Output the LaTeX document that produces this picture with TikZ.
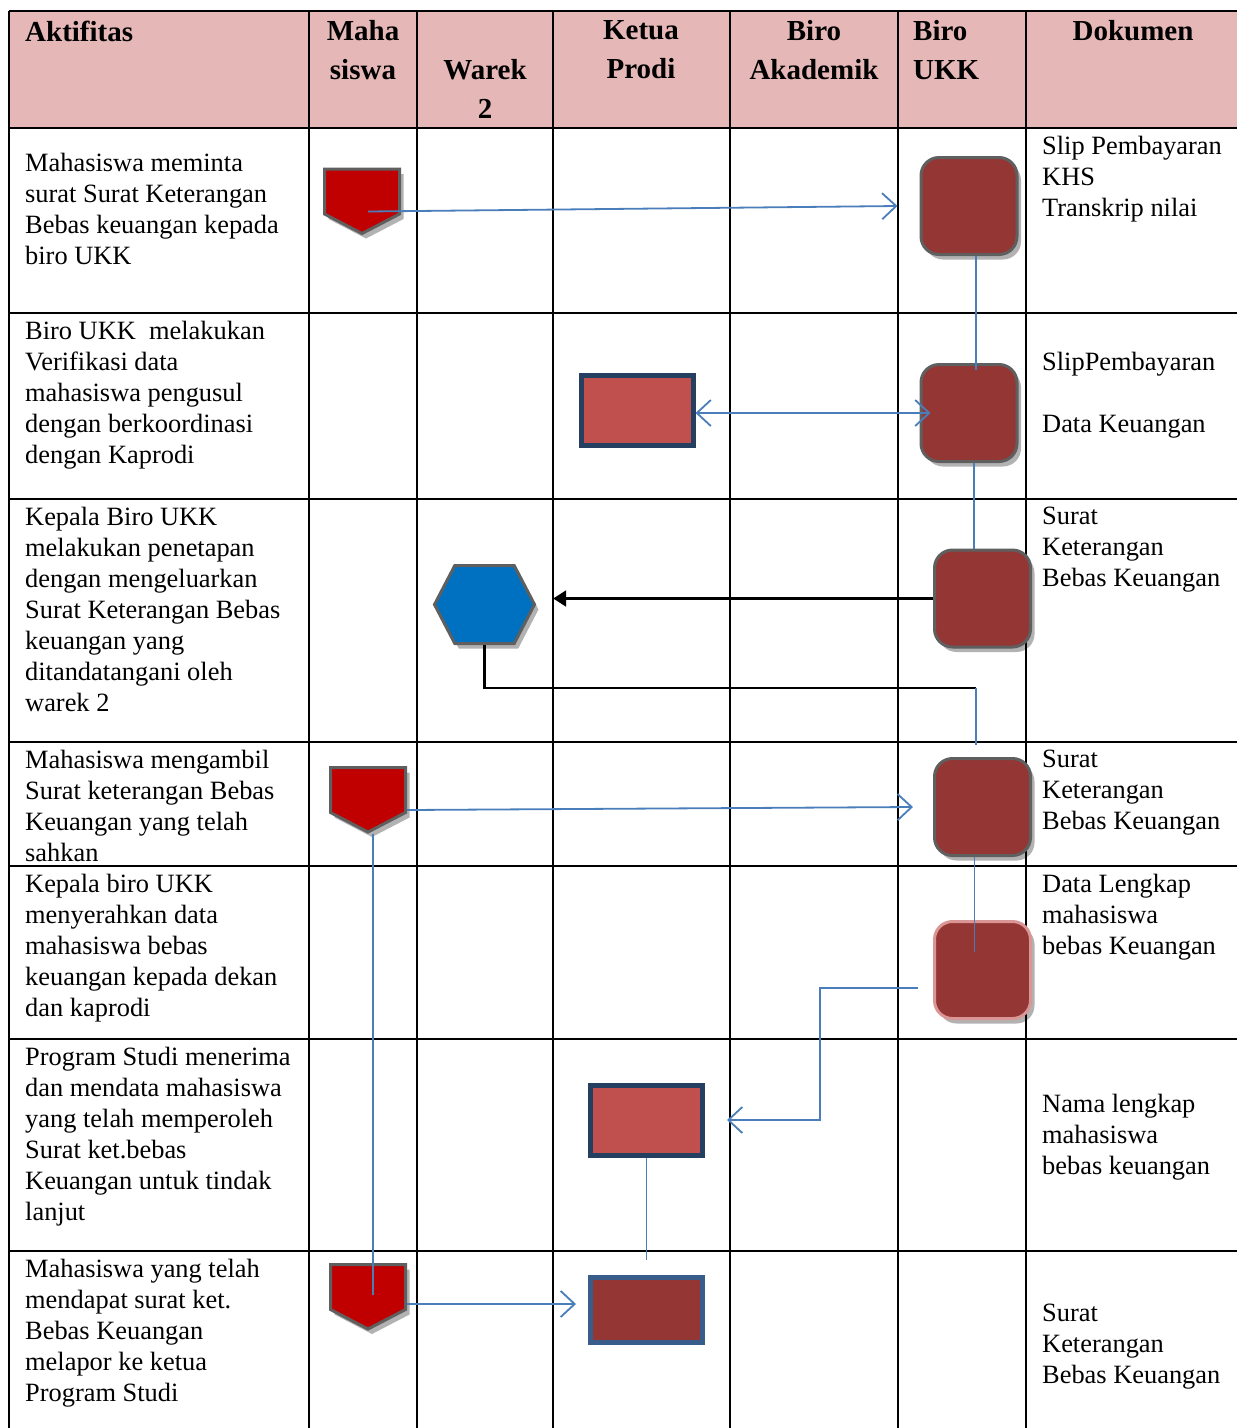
\documentclass[tikz,border=0pt]{standalone}
\usepackage{fontspec}
\setmainfont{Liberation Serif}
\usetikzlibrary{shapes.symbols}
\usetikzlibrary{shadows}
\usetikzlibrary{arrows.meta}

\definecolor{headpink}{HTML}{E5B8B7}
\definecolor{pentred}{HTML}{C00000}
\definecolor{boxred}{HTML}{943634}
\definecolor{lightred}{HTML}{C0504D}
\definecolor{navy}{HTML}{243F60}
\definecolor{steel}{HTML}{385D8A}
\definecolor{hexblue}{HTML}{0070C0}
\definecolor{flowblue}{HTML}{4A7EBB}
\definecolor{shapegray}{HTML}{5F5F5F}
\definecolor{rosy}{HTML}{D99694}

\begin{document}
\begin{tikzpicture}[x=1pt,y=-1pt,
grid/.style={line width=1.3pt},
akt/.style={anchor=north west,align=left,inner sep=0pt,font=\fontsize{26.4}{31}\selectfont},
head/.style={anchor=north,inner sep=0pt,font=\fontsize{29}{39}\selectfont\bfseries},
shade/.style={drop shadow={shadow xshift=4pt,shadow yshift=-5pt,fill=black,opacity=0.3}},
offpage/.style={signal,signal to=south,signal pointer angle=125,draw=shapegray,line width=3pt,
  fill=pentred,minimum width=75pt,minimum height=45pt,inner sep=0pt,shade},
ukk/.style={rectangle,rounded corners=18pt,draw=shapegray,line width=3pt,fill=boxred,
  minimum width=96pt,minimum height=97pt,inner sep=0pt,shade},
prodi/.style={rectangle,draw=navy,line width=5pt,fill=lightred,minimum width=112pt,
  minimum height=70pt,inner sep=0pt},
hexa/.style={signal,signal to=east and west,signal pointer angle=125,draw=shapegray,
  line width=3pt,fill=hexblue,minimum width=100pt,minimum height=78pt,inner sep=0pt,shade},
flow/.style={draw=flowblue,line width=1.8pt},
>={Straight Barb[length=14pt,width=26pt]}
]
\useasboundingbox (0,0) rectangle (1237,1428);

% tabel
\fill[headpink] (9,11) rectangle (1237,128);
\foreach \x in {9,309,417,553,730,898,1026}
  \draw[grid] (\x,11) -- (\x,1428);
\foreach \y in {11,128,313,499,742,866,1039,1251}
  \draw[grid] (9,\y) -- (1237,\y);

% judul kolom
\node[head,anchor=north west] (hAkt) at (25,20.5) {Aktifitas};
\node[head,align=center] (hMhs) at (363,20.5) {Maha\\siswa};
\node[head,align=center] (hWrk) at (485,59.5) {Warek\\2};
\node[head,align=center] (hKp) at (641,20.5) {Ketua\\Prodi};
\node[head,align=center] (hBa) at (814,20.5) {Biro\\Akademik};
\node[head,align=left,anchor=north west] (hUkk) at (913,20.5) {Biro\\UKK};
\node[head] (hDok) at (1133,20.5) {Dokumen};

% aktifitas
\node[akt] (t1) at (25,153) {Mahasiswa meminta\\surat Surat Keterangan\\Bebas keuangan kepada\\biro UKK};
\node[akt] (t2) at (25,321) {Biro UKK\ \ melakukan\\Verifikasi data\\mahasiswa pengusul\\dengan berkoordinasi\\dengan Kaprodi};
\node[akt] (t3) at (25,507) {Kepala Biro UKK\\melakukan penetapan\\dengan mengeluarkan\\Surat Keterangan Bebas\\keuangan yang\\ditandatangani oleh\\warek 2};
\node[akt] (t4) at (25,750) {Mahasiswa mengambil\\Surat keterangan Bebas\\Keuangan yang telah\\sahkan};
\node[akt] (t5) at (25,874) {Kepala biro UKK\\menyerahkan data\\mahasiswa bebas\\keuangan kepada dekan\\dan kaprodi};
\node[akt] (t6) at (25,1047) {Program Studi menerima\\dan mendata mahasiswa\\yang telah memperoleh\\Surat ket.bebas\\Keuangan untuk tindak\\lanjut};
\node[akt] (t7) at (25,1259) {Mahasiswa yang telah\\mendapat surat ket.\\Bebas Keuangan\\melapor ke ketua\\Program Studi};

% dokumen
\node[akt] (d1) at (1042,136) {Slip Pembayaran\\KHS\\Transkrip nilai};
\node[akt] (d2) at (1042,352) {SlipPembayaran\\[31pt]Data Keuangan};
\node[akt] (d3) at (1042,507) {Surat\\Keterangan\\Bebas Keuangan};
\node[akt] (d4) at (1042,750) {Surat\\Keterangan\\Bebas Keuangan};
\node[akt] (d5) at (1042,874) {Data Lengkap\\mahasiswa\\bebas Keuangan};
\node[akt] (d6) at (1042,1094) {Nama lengkap\\mahasiswa\\bebas keuangan};
\node[akt] (d7) at (1042,1304) {Surat\\Keterangan\\Bebas Keuangan};

% simbol
\node[offpage] (m1) at (362,191.5) {};
\node[offpage] (m2) at (368,790) {};
\node[offpage] (m3) at (368,1287) {};
\node[ukk] (u1) at (969,206) {};
\node[ukk] (u2) at (969,413) {};
\node[ukk] (u3) at (982.5,598.5) {};
\node[ukk] (u4) at (982.5,807) {};
\node[ukk,draw=rosy] (u5) at (982.5,970) {};
\node[prodi] (k1) at (637,410) {};
\node[prodi] (k2) at (646.5,1120) {};
\node[prodi,draw=steel,fill=boxred,minimum height=65pt] (k3) at (646.5,1310) {};
\node[hexa] (w1) at (484.5,604.5) {};

% alur
\coordinate (wtip) at ([xshift=17pt]w1.east);
\coordinate (j1) at (976,688);
\coordinate (j2) at (976,745);
\coordinate (bend) at (820,1120);
\draw[flow,->] ([xshift=6pt,yshift=-20pt]m1.center) -- ([xshift=-22pt]u1.west);
\draw[flow] ([xshift=7pt]u1.south) -- ([xshift=7pt,yshift=-7pt]u2.north);
\draw[flow,<->] ([yshift=-3pt]k1.east) -- ([xshift=11pt]u2.west);
\draw[flow] ([xshift=5pt]u2.south) -- ([xshift=-8.5pt]u3.north);
\draw[line width=2.2pt,-{Triangle[length=13pt,width=16pt]}] (u3.west) -- (u3.west -| wtip);
\draw[line width=2.2pt] (w1.south) |- (j1);
\draw[flow] (j1) -- (j2);
\draw[flow,->] ([yshift=-20pt]m2.east) -- ([xshift=-20pt]u4.west);
\draw[flow] ([xshift=5pt]m2.south) -- ([xshift=5pt,yshift=-8pt]m3.center);
\draw[flow] ([xshift=-8pt]u4.south) -- ([xshift=-8pt,yshift=-32pt]u5.north);
\draw[flow,->] ([xshift=-15pt,yshift=-18pt]u5.west) -| (bend) -- ([xshift=22pt]k2.east);
\draw[flow] (k2.south) -- ([yshift=15pt]k3.north);
\draw[flow,->] ([yshift=-17pt]m3.east) -- ([xshift=-12pt,yshift=6pt]k3.west);
\end{tikzpicture}
\end{document}
